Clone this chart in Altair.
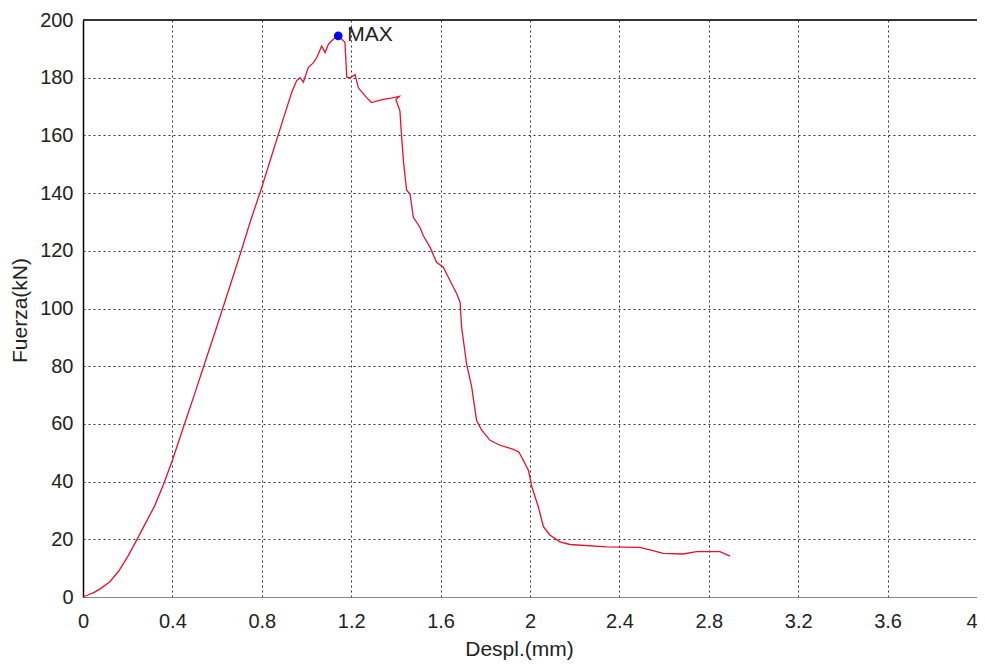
import altair as alt
import pandas as pd

# Curve values
despl = [0.0, 0.02, 0.05, 0.08, 0.12, 0.16, 0.20, 0.24, 0.28, 0.32, 0.36, 0.40,
         0.45, 0.50, 0.54, 0.60, 0.65, 0.70, 0.75, 0.80, 0.837, 0.889, 0.934,
         0.956, 0.971, 0.986, 1.008, 1.031, 1.046, 1.068, 1.083, 1.098, 1.12,
         1.142, 1.172, 1.18, 1.195, 1.217, 1.232, 1.269, 1.291, 1.343, 1.38,
         1.415, 1.40, 1.418, 1.425, 1.435, 1.448, 1.463, 1.478, 1.508, 1.522,
         1.553, 1.582, 1.612, 1.642, 1.672, 1.687, 1.694, 1.716, 1.739, 1.761,
         1.784, 1.821, 1.866, 1.925, 1.95, 1.97, 1.993, 2.008, 2.037, 2.06,
         2.089, 2.134, 2.179, 2.343, 2.49, 2.537, 2.596, 2.685, 2.745, 2.85,
         2.895]
fuerza = [0.0, 0.6, 1.6, 3.0, 5.3, 9.0, 14.0, 19.7, 25.6, 31.5, 39.0, 47.4,
          59.0, 70.5, 80.0, 94.0, 106.0, 118.0, 130.5, 142.0, 151.2, 164.0, 175.0,
          179.0, 180.0, 178.5, 183.5, 185.2, 187.0, 191.0, 188.7, 191.6, 193.3,
          194.5, 192.3, 180.2, 180.0, 181.1, 176.5, 173.1, 171.4, 172.5, 172.9,
          173.5, 172.4, 168.5, 160.0, 150.0, 141.0, 139.7, 131.6, 128.1, 125.3,
          121.2, 116.0, 114.3, 109.7, 105.1, 102.2, 93.5, 80.9, 72.8, 61.2,
          57.8, 54.3, 52.6, 51.2, 50.3, 47.4, 43.9, 38.2, 31.3, 24.4,
          21.5, 19.1, 18.2, 17.4, 17.2, 16.3, 15.1, 14.9, 15.7, 15.7,
          14.2]

max_x = [1.142]
max_y = [194.5]
max_label = ["MAX"]

x_ticks = [0, 0.4, 0.8, 1.2, 1.6, 2.0, 2.4, 2.8, 3.2, 3.6, 4.0]
y_ticks = [0, 20, 40, 60, 80, 100, 120, 140, 160, 180, 200]

curve = pd.DataFrame({"despl": despl, "fuerza": fuerza, "idx": list(range(len(despl)))})
maxdf = pd.DataFrame({"despl": max_x, "fuerza": max_y, "label": max_label})

FONT = "Liberation Sans"

xscale = alt.Scale(domain=[0, 4], nice=False, zero=False)
yscale = alt.Scale(domain=[0, 200], nice=False)

xaxis = alt.Axis(values=x_ticks, format=".1~f", title="Despl.(mm)", ticks=False,
                 labelPadding=14, labelFontSize=20, labelFont=FONT, labelColor="#222",
                 labelAlign={"condition": {"test": "datum.value >= 4", "value": "right"},
                             "value": "center"},
                 titleFontSize=21, titleFont=FONT, titleFontWeight="normal", titleColor="#222",
                 titleX=436, titleY=41, titleBaseline="top", titleAlign="center",
                 grid=True, gridColor="#333", gridDash=[2, 3], gridWidth=1,
                 domainColor="#888", labelFlush=False)
yaxis = alt.Axis(values=y_ticks, title="Fuerza(kN)", ticks=False,
                 labelPadding=10, labelFontSize=20, labelFont=FONT, labelColor="#222",
                 titleFontSize=21, titleFont=FONT, titleFontWeight="normal", titleColor="#222",
                 titleAngle=270, titleX=-63, titleY=290, titleBaseline="middle",
                 titleAlign="center",
                 grid=True, gridColor="#333", gridDash=[2, 3], gridWidth=1,
                 domainColor="#000", domainWidth=1.5, labelFlush=False)

line = alt.Chart(curve).mark_line(color="#e8102a", strokeWidth=1.3).encode(
    x=alt.X("despl:Q", scale=xscale, axis=xaxis),
    y=alt.Y("fuerza:Q", scale=yscale, axis=yaxis),
    order="idx:Q",
)

top = alt.Chart(maxdf).mark_rule(color="#333", strokeWidth=2).encode(
    x=alt.datum(0), x2=alt.datum(4), y=alt.datum(200)
)

dot = alt.Chart(maxdf).mark_point(filled=True, color="#0000ff", size=75, opacity=1).encode(
    x="despl:Q", y="fuerza:Q"
)

txt = alt.Chart(maxdf).mark_text(align="left", baseline="middle", dx=9, dy=-1,
                                 font=FONT, fontSize=21, color="#222").encode(
    x="despl:Q", y="fuerza:Q", text="label:N"
)

chart = alt.layer(line, top, dot, txt).properties(
    width=894, height=577,
    autosize=alt.AutoSizeParams(type="none"),
    padding={"left": 75, "top": 12, "right": 0, "bottom": 64},
).configure_view(stroke="#888", strokeWidth=1).configure(background="white")

chart.save("out.html", embed_options={"renderer": "svg", "actions": False})
